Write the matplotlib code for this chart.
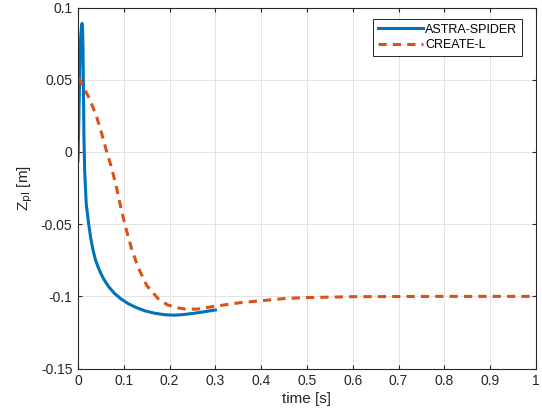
import numpy as np
import matplotlib
matplotlib.use('Agg')
import matplotlib.pyplot as plt

plt.rcParams['font.family'] = ['Liberation Sans', 'DejaVu Sans']

# ASTRA-SPIDER response
t_astra = [0.0, 0.002, 0.004, 0.006, 0.008, 0.009, 0.010, 0.011, 0.012, 0.013, 0.0146, 0.018,
           0.0234, 0.028, 0.033, 0.038, 0.044, 0.05, 0.058, 0.068, 0.080, 0.094, 0.1095, 0.127,
           0.146, 0.168, 0.19, 0.21, 0.23, 0.26, 0.3]
z_astra = [-0.006, 0.025, 0.058, 0.080, 0.088, 0.089, 0.085, 0.070, 0.040, 0.010, -0.013, -0.036,
           -0.050, -0.060, -0.0682, -0.0745, -0.0797, -0.0842, -0.089, -0.0937, -0.098, -0.1018, -0.105, -0.1077,
           -0.110, -0.1117, -0.1127, -0.113, -0.1126, -0.1114, -0.1094]

# CREATE-L response
t_create = [0.0, 0.004, 0.012, 0.0255, 0.040, 0.051, 0.062, 0.073, 0.084, 0.095, 0.106, 0.117,
            0.131, 0.150, 0.175, 0.195, 0.215, 0.235, 0.26, 0.3, 0.35, 0.4, 0.45, 0.5, 0.6, 0.8, 1.0]
z_create = [0.051, 0.050, 0.045, 0.0366, 0.0251, 0.0136, 0.0009, -0.0106, -0.0244, -0.0406, -0.0544, -0.067,
            -0.0797, -0.0924, -0.1016, -0.1058, -0.1078, -0.1088, -0.1088, -0.1068, -0.1045, -0.103, -0.1015, -0.1008, -0.1002, -0.1, -0.1]

fig = plt.figure(figsize=(5.42, 4.19), dpi=100)
ax = fig.add_axes([0.1439, 0.1203, 0.845, 0.8616])

ax.plot(t_astra, z_astra, color='#0072BD', lw=2.2, label='ASTRA-SPIDER')
ax.plot(t_create, z_create, color='#D95319', lw=2.2, ls=(0, (2.7, 2.0)), label='CREATE-L')

ax.set_xlim(0, 1)
ax.set_ylim(-0.15, 0.1)
ax.set_xticks(np.arange(0, 1.01, 0.1))
ax.set_xticklabels(['0', '0.1', '0.2', '0.3', '0.4', '0.5', '0.6', '0.7', '0.8', '0.9', '1'])
ax.set_yticks([-0.15, -0.1, -0.05, 0, 0.05, 0.1])
ax.set_yticklabels(['-0.15', '-0.1', '-0.05', '0', '0.05', '0.1'])
ax.grid(True, color='#e3e3e3', lw=0.7)
ax.set_axisbelow(True)
ax.tick_params(direction='in', top=True, right=True, labelsize=10, colors='#262626',
               length=3, pad=4)
for s in ax.spines.values():
    s.set_color('#262626')
    s.set_linewidth(0.8)

ax.set_xlabel('time [s]', fontsize=11, color='#262626', labelpad=3)
ax.set_ylabel(r'Z$_{\rm pl}$ [m]', fontsize=11, color='#262626', labelpad=4)

leg = ax.legend(loc='upper right', bbox_to_anchor=(0.969, 0.968), fontsize=9, fancybox=False,
                edgecolor='#262626', framealpha=1, handlelength=3.6, handletextpad=0.2,
                borderpad=0.35, labelspacing=0.3, borderaxespad=0)
leg.get_frame().set_linewidth(0.7)

fig.savefig('out.png', dpi=100)
